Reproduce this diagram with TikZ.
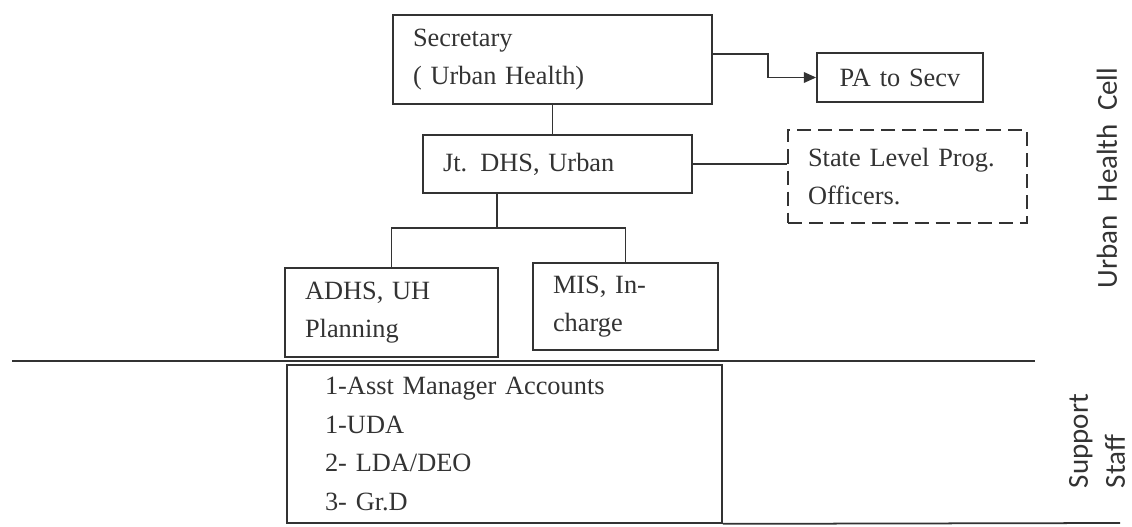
\documentclass[tikz,border=0pt]{standalone}
\usepackage{fontspec}
\setmainfont{Liberation Serif}
\setsansfont{Carlito}
\usetikzlibrary{arrows.meta}
\definecolor{ink}{HTML}{333333}

\begin{document}
\begin{tikzpicture}[x=0.02cm,y=-0.02cm,line width=1pt]
	\useasboundingbox (0,0) rectangle (1132,527);
	
	% Style for the boxes
	\tikzstyle{box}=[
	rectangle,
	draw=ink,
	text=ink,
	align=left,
	inner xsep=0.4cm,
	font=\fontsize{15}{22}\selectfont
	]
	\tikzstyle{side}=[text=ink, rotate=90, align=left, inner sep=0pt,
	font=\sffamily\fontsize{16.5}{21}\selectfont]
	
	% --- Top rows ---
	\node[box, text width=5.58cm, minimum height=1.78cm] (sec) at (552.5, 59.5) {Secretary\\( Urban Health)};
	\node[box, align=center, text width=2.52cm, minimum height=0.98cm] (pa) at (900, 77.5) {PA to Secv};
	\node[box, text width=4.58cm, minimum height=1.16cm] (jt) at (557.5, 164) {Jt. DHS, Urban};
	\node[box, dash pattern=on 8pt off 4pt, text width=3.98cm, minimum height=1.86cm] (slp) at (907.5, 176.5) {State Level Prog.\\Officers.};
	
	% --- Branch row ---
	\node[box, text width=3.46cm, minimum height=1.78cm] (adhs) at (391.5, 312.5) {ADHS, UH\\Planning};
	\node[box, text width=2.9cm, minimum height=1.74cm] (mis) at (625.5, 306.5) {MIS, In-\\charge};
	
	% --- Support staff ---
	\node[box, inner xsep=0.76cm, text width=7.18cm, minimum height=3.16cm] (staff) at (504.5, 444) {1-Asst Manager Accounts\\1-UDA\\2- LDA/DEO\\3- Gr.D};
	
	% side labels
	\node[side] (uhc) at (1107, 178) {Urban\ \ Health\ \ Cell};
	\node[side, anchor=west] (ss) at (1097, 489) {Support\\Staff};
	
	\coordinate (split) at (497, 228);
	\draw[ink] (sec.south) -- (sec.south |- jt.north);
	\draw[ink, -{Triangle[length=7pt,width=6pt]}] (sec.2.5) -- ++(55,0) |- (pa.west);
	\draw[ink] (jt.east) -- (jt.east -| slp.west);
	\draw[ink] (jt.south -| split) -- (split);
	\draw[ink] (adhs.north) |- (split) -| (mis.north);
	
	% dividers
	\draw[ink] (12, 361) -- (1035, 361);
	\draw[ink] (staff.south east) -- (1120, 523);
\end{tikzpicture}
\end{document}
